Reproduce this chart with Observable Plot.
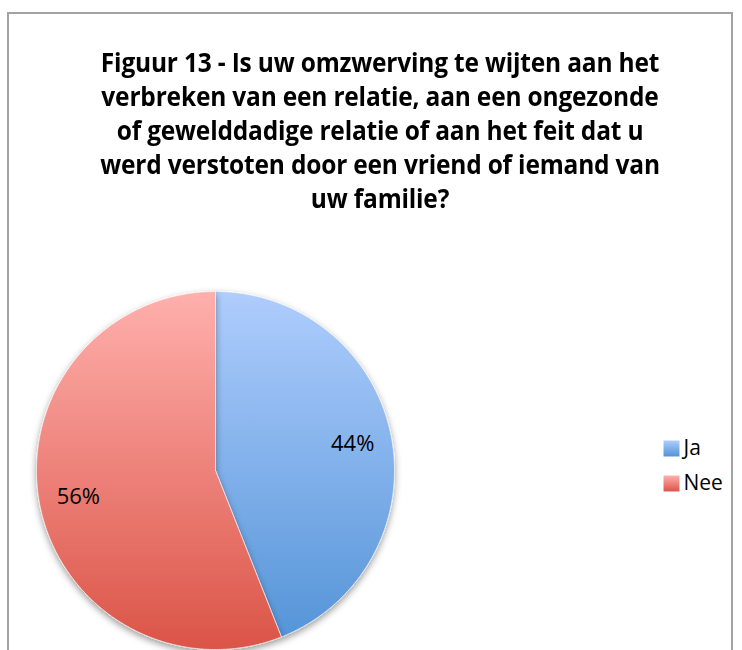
<!DOCTYPE html>
<html><head><meta charset="utf-8">
<script src="https://cdn.jsdelivr.net/npm/d3@7"></script>
<script src="https://cdn.jsdelivr.net/npm/@observablehq/plot@0.6"></script>
<style>
body{margin:0;background:#fff;}
#wrap{position:relative;width:742px;height:650px;overflow:hidden;background:#fff;}
#frame{position:absolute;left:7px;top:12px;width:726px;height:720px;border:2px solid #a3a3a3;box-sizing:border-box;}
#title{position:absolute;left:0;width:760px;top:45px;text-align:center;font-family:"Open Sans";font-weight:bold;font-size:27px;line-height:34px;color:#000;transform:scaleX(0.907);transform-origin:380px 0;letter-spacing:-0.2px;}
#chart{position:absolute;left:0;top:0;}
</style></head><body>
<div id="wrap"><div id="frame"></div>
<div id="title">Figuur 13 - Is uw omzwerving te wijten aan het<br>verbreken van een relatie, aan een ongezonde<br>of gewelddadige relatie of aan het feit dat u<br>werd verstoten door een vriend of iemand van<br>uw familie?</div>
<div id="chart"></div></div>
<script>
const categories = ["Ja", "Nee"];
const values = [44, 56];
const labels = ["44%", "56%"];
const topColors = ["#afcdfd", "#ffb0ad"];
const bottomColors = ["#5293d7", "#db5447"];

// layout
const W = 742, H = 650, cx = 215, cy = 470, R = 179;

const arcs = d3.pie().sort(null)(values);
const slicePts = arcs.map((a, i) => {
  const pts = [{x: cx, y: cy, k: categories[i]}];
  const n = Math.max(2, Math.ceil((a.endAngle - a.startAngle) / 0.01));
  for (let j = 0; j <= n; j++) {
    const t = a.startAngle + (a.endAngle - a.startAngle) * j / n;
    pts.push({x: cx + R * Math.sin(t), y: cy - R * Math.cos(t), k: categories[i]});
  }
  pts.push({x: cx, y: cy, k: categories[i]});
  return pts;
});
const labelData = arcs.map((a, i) => {
  const m = (a.startAngle + a.endAngle) / 2;
  return {x: cx + 0.78 * R * Math.sin(m), y: cy - 0.78 * R * Math.cos(m), t: labels[i]};
});
const legendData = categories.map((c, i) => ({x: 671, y: 448 + i * 35, c, i}));

const plot = Plot.plot({
  width: W, height: H, margin: 0,
  x: {domain: [0, W], range: [0, W], axis: null},
  y: {domain: [0, H], range: [0, H], axis: null},
  marks: [
    ...slicePts.map((pts, i) => Plot.line(pts, {x: "x", y: "y", fill: `url(#pg${i})`, stroke: "#ffffff", strokeWidth: 0.6, curve: "linear"})),
    Plot.text(labelData, {x: "x", y: "y", text: "t", fontSize: 22, fontFamily: "Open Sans", fill: "#000"}),
    ...legendData.map((d) => Plot.dot([d], {x: "x", y: "y", symbol: "square", r: 9, fill: `url(#lg${d.i})`, stroke: "none"})),
    Plot.text(legendData, {x: d => d.x + 12, y: "y", text: "c", textAnchor: "start", fontSize: 21, fontFamily: "Open Sans", fill: "#000"})
  ]
});

const svg = d3.select(plot);
const defs = svg.insert("defs", ":first-child");
const f = defs.append("filter").attr("id", "shadow").attr("x", "-20%").attr("y", "-20%").attr("width", "140%").attr("height", "140%");
f.append("feDropShadow").attr("dx", 0).attr("dy", 3).attr("stdDeviation", 3.5).attr("flood-color", "#000").attr("flood-opacity", 0.4);
categories.forEach((c, i) => {
  const g = defs.append("linearGradient").attr("id", `pg${i}`).attr("gradientUnits", "userSpaceOnUse")
    .attr("x1", 0).attr("x2", 0).attr("y1", cy - R).attr("y2", cy + R);
  g.append("stop").attr("offset", "0%").attr("stop-color", topColors[i]);
  g.append("stop").attr("offset", "100%").attr("stop-color", bottomColors[i]);
  const l = defs.append("linearGradient").attr("id", `lg${i}`).attr("x1", 0).attr("x2", 0).attr("y1", 0).attr("y2", 1);
  l.append("stop").attr("offset", "0%").attr("stop-color", topColors[i]);
  l.append("stop").attr("offset", "100%").attr("stop-color", bottomColors[i]);
});
svg.selectAll('g[aria-label="line"]').attr("filter", "url(#shadow)");
svg.style("background", "transparent");
document.getElementById("chart").appendChild(plot);
</script>
</body></html>
